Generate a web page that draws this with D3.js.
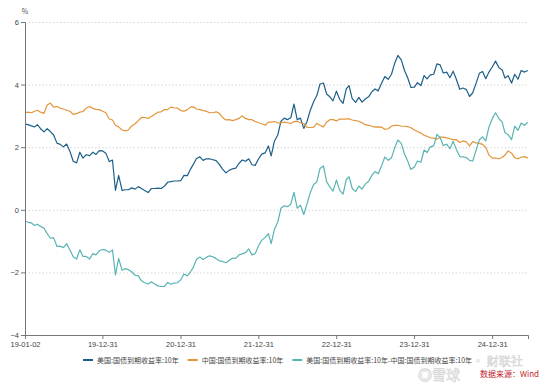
<!DOCTYPE html>
<html>
<head>
<meta charset="utf-8">
<script src="https://cdn.jsdelivr.net/npm/d3@7"></script>
<style>
  body { margin: 0; background: #fff; }
  svg { display: block; font-family: "Noto Sans CJK SC", "Noto Sans", sans-serif; }
  .axis text { fill: #444; font-size: 7.5px; }
  .axis path, .axis line { stroke: #777; }
  .grid line { stroke: #d6d6d6; stroke-dasharray: 1.5 2; }
  .legend text { fill: #444; font-size: 7px; }
</style>
</head>
<body>
<div id="chart"></div>
<script>
// semi-monthly readings (1st / 16th of each month), 2019-01 .. 2025-06
const usYield = [
  2.74, 2.72, 2.68, 2.65, 2.72, 2.59, 2.49, 2.59, 2.50, 2.39, 2.13, 2.09, 2.01, 2.10, 1.86, 1.55, 1.50, 1.84, 1.65, 1.76, 1.73, 1.84, 1.77, 1.89,
  1.88, 1.81, 1.54, 1.59, 0.62, 1.10, 0.62, 0.64, 0.64, 0.70, 0.66, 0.74, 0.68, 0.62, 0.55, 0.68, 0.68, 0.69, 0.68, 0.75, 0.88, 0.90, 0.92, 0.92,
  0.93, 1.10, 1.09, 1.30, 1.45, 1.64, 1.69, 1.58, 1.63, 1.63, 1.60, 1.57, 1.45, 1.30, 1.18, 1.26, 1.31, 1.33, 1.48, 1.59, 1.55, 1.63, 1.44, 1.42,
  1.63, 1.78, 1.82, 2.04, 1.72, 2.19, 2.39, 2.83, 2.93, 2.88, 2.94, 3.38, 2.88, 2.93, 2.60, 2.82, 3.19, 3.45, 3.65, 4.02, 4.05, 3.70, 3.61, 3.48,
  3.79, 3.53, 3.40, 3.86, 3.97, 3.55, 3.43, 3.59, 3.44, 3.54, 3.61, 3.77, 3.86, 3.80, 4.05, 4.26, 4.17, 4.33, 4.68, 4.93, 4.79, 4.45, 4.22, 3.91,
  3.92, 4.06, 3.97, 4.29, 4.18, 4.31, 4.33, 4.66, 4.63, 4.37, 4.40, 4.22, 4.43, 4.17, 3.85, 3.89, 3.84, 3.62, 3.74, 4.03, 4.36, 4.42, 4.19, 4.40,
  4.57, 4.75, 4.54, 4.47, 4.21, 4.28, 4.05, 4.33, 4.17, 4.45, 4.40, 4.45,
];

const cnYield = [
  3.10, 3.12, 3.10, 3.15, 3.18, 3.12, 3.08, 3.35, 3.41, 3.28, 3.30, 3.25, 3.22, 3.18, 3.15, 3.05, 3.07, 3.12, 3.14, 3.25, 3.30, 3.24, 3.21, 3.20,
  3.15, 3.10, 2.90, 2.87, 2.70, 2.65, 2.55, 2.52, 2.55, 2.68, 2.75, 2.85, 2.95, 2.95, 2.92, 2.98, 3.05, 3.12, 3.13, 3.20, 3.20, 3.28, 3.26, 3.25,
  3.17, 3.15, 3.20, 3.28, 3.29, 3.22, 3.20, 3.17, 3.15, 3.10, 3.10, 3.13, 3.08, 2.95, 2.87, 2.88, 2.85, 2.88, 2.92, 3.00, 2.92, 2.88, 2.88, 2.82,
  2.78, 2.75, 2.70, 2.80, 2.80, 2.82, 2.78, 2.78, 2.80, 2.78, 2.76, 2.82, 2.83, 2.78, 2.75, 2.63, 2.63, 2.64, 2.76, 2.70, 2.65, 2.80, 2.88, 2.88,
  2.84, 2.90, 2.90, 2.90, 2.91, 2.87, 2.85, 2.83, 2.78, 2.72, 2.70, 2.67, 2.64, 2.65, 2.64, 2.57, 2.59, 2.67, 2.70, 2.70, 2.67, 2.67, 2.66, 2.62,
  2.55, 2.50, 2.45, 2.38, 2.35, 2.30, 2.29, 2.25, 2.32, 2.32, 2.30, 2.27, 2.24, 2.24, 2.15, 2.20, 2.17, 2.04, 2.18, 2.14, 2.12, 2.09, 1.99, 1.75,
  1.65, 1.65, 1.63, 1.67, 1.75, 1.88, 1.81, 1.66, 1.63, 1.68, 1.70, 1.65,
];

const spreadYield = [
  -0.36, -0.40, -0.42, -0.50, -0.46, -0.53, -0.59, -0.76, -0.91, -0.89, -1.17, -1.16, -1.21, -1.08, -1.29, -1.50, -1.57, -1.28, -1.49, -1.49, -1.57, -1.40, -1.44, -1.31,
  -1.27, -1.29, -1.36, -1.28, -2.08, -1.55, -1.93, -1.88, -1.91, -1.98, -2.09, -2.11, -2.27, -2.33, -2.37, -2.30, -2.37, -2.43, -2.45, -2.45, -2.32, -2.38, -2.34, -2.33,
  -2.24, -2.05, -2.11, -1.98, -1.84, -1.58, -1.51, -1.59, -1.52, -1.47, -1.50, -1.56, -1.63, -1.65, -1.69, -1.62, -1.54, -1.55, -1.44, -1.41, -1.37, -1.25, -1.44, -1.40,
  -1.15, -0.97, -0.88, -0.76, -1.08, -0.63, -0.39, 0.05, 0.13, 0.10, 0.18, 0.56, 0.05, 0.15, -0.15, 0.19, 0.56, 0.81, 0.89, 1.32, 1.40, 0.90, 0.73, 0.60,
  0.95, 0.63, 0.50, 0.96, 1.06, 0.68, 0.58, 0.76, 0.66, 0.82, 0.91, 1.10, 1.22, 1.15, 1.41, 1.69, 1.58, 1.66, 1.98, 2.23, 2.12, 1.78, 1.56, 1.29,
  1.37, 1.56, 1.52, 1.91, 1.83, 2.01, 2.04, 2.41, 2.31, 2.05, 2.10, 1.95, 2.19, 1.93, 1.70, 1.69, 1.67, 1.58, 1.56, 1.89, 2.24, 2.33, 2.20, 2.65,
  2.92, 3.10, 2.91, 2.80, 2.46, 2.40, 2.24, 2.67, 2.54, 2.77, 2.70, 2.80,
];

const seriesNames = [
  '美国:国债到期收益率:10年',
  '中国:国债到期收益率:10年',
  '美国:国债到期收益率:10年-中国:国债到期收益率:10年',
];
const seriesColors = ['#1d5f8a', '#e3953a', '#58b4b2'];
const xTickLabels = ['19-01-02', '19-12-31', '20-12-31', '21-12-31', '22-12-31', '23-12-31', '24-12-31'];
const yTicks = [-4, -2, 0, 2, 4, 6];
const xDomain = ['2019-01-02', '2025-06-17'];

class YieldLineChart {
  constructor(_config, _data) {
    this.config = {
      parentElement: _config.parentElement,
      containerWidth: 554,
      containerHeight: 384,
      margin: {
        top: 22, right: 26, bottom: 49, left: 25,
      },
    };
    this.data = _data;
    this.initVis();
  }

  initVis() {
    const vis = this;

    vis.width = vis.config.containerWidth - vis.config.margin.left - vis.config.margin.right;
    vis.height = vis.config.containerHeight - vis.config.margin.top - vis.config.margin.bottom;

    vis.svg = d3.select(vis.config.parentElement).append('svg')
      .attr('width', vis.config.containerWidth)
      .attr('height', vis.config.containerHeight);

    vis.chart = vis.svg.append('g')
      .attr('transform', `translate(${vis.config.margin.left},${vis.config.margin.top})`);

    const parseDay = d3.timeParse('%Y-%m-%d');
    vis.xScale = d3.scaleTime()
      .domain(xDomain.map(parseDay))
      .range([0, vis.width]);

    vis.yScale = d3.scaleLinear()
      .domain(d3.extent(yTicks))
      .range([vis.height, 0]);

    const parseTick = d3.timeParse('%y-%m-%d');
    vis.xAxis = d3.axisBottom(vis.xScale)
      .tickValues(xTickLabels.map(parseTick))
      .tickFormat(d3.timeFormat('%y-%m-%d'))
      .tickSize(4)
      .tickPadding(3);

    vis.yAxis = d3.axisLeft(vis.yScale)
      .tickValues(yTicks)
      .tickSize(4)
      .tickPadding(2);

    vis.gridAxis = d3.axisLeft(vis.yScale)
      .tickValues(yTicks.filter((d) => d !== yTicks[0]))
      .tickSize(-vis.width)
      .tickFormat('');

    vis.gridG = vis.chart.append('g').attr('class', 'grid');
    vis.linesG = vis.chart.append('g');
    vis.xAxisG = vis.chart.append('g')
      .attr('class', 'axis x-axis')
      .attr('transform', `translate(0,${vis.height})`);
    vis.yAxisG = vis.chart.append('g').attr('class', 'axis y-axis');

    vis.updateVis();
  }

  updateVis() {
    const vis = this;
    // dates: 2019-01-02, then 1st / 16th of every month
    vis.dates = vis.data[0].map((v, i) => new Date(2019, Math.floor(i / 2), i % 2 ? 16 : (i === 0 ? 2 : 1)));
    vis.series = vis.data.map((values, k) => ({
      name: seriesNames[k],
      color: seriesColors[k],
      points: values.map((v, i) => ({ date: vis.dates[i], value: v })),
    }));
    vis.line = d3.line()
      .x((d) => vis.xScale(d.date))
      .y((d) => vis.yScale(d.value));
    vis.renderVis();
  }

  renderVis() {
    const vis = this;

    vis.gridG.call(vis.gridAxis)
      .call((g) => g.select('.domain').remove());

    vis.linesG.selectAll('path')
      .data(vis.series)
      .join('path')
      .attr('fill', 'none')
      .attr('stroke', (d) => d.color)
      .attr('stroke-width', 1.2)
      .attr('stroke-linejoin', 'round')
      .attr('d', (d) => vis.line(d.points));

    vis.xAxisG.call(vis.xAxis);
    vis.yAxisG.call(vis.yAxis);

    vis.svg.append('text')
      .attr('x', vis.config.margin.left)
      .attr('y', 14)
      .attr('text-anchor', 'middle')
      .attr('fill', '#555')
      .attr('font-size', 7)
      .text('%');

    // watermark first, so legend and source sit on top of it
    vis.svg.append('text')
      .attr('x', 418).attr('y', 380)
      .attr('font-size', 14)
      .attr('fill', '#f3f3f3')
      .attr('stroke', '#d2d2d2')
      .attr('stroke-width', 0.5)
      .text('◎雪球');
    vis.svg.append('text')
      .attr('x', 472).attr('y', 366)
      .attr('font-size', 12)
      .attr('fill', '#f3f3f3')
      .attr('stroke', '#d2d2d2')
      .attr('stroke-width', 0.5)
      .text('· 财联社');

    // legend, laid out left to right
    const legend = vis.svg.append('g').attr('class', 'legend');
    let lx = 83;
    const ly = 360;
    vis.series.forEach((s) => {
      legend.append('line')
        .attr('x1', lx).attr('x2', lx + 10)
        .attr('y1', ly).attr('y2', ly)
        .attr('stroke', s.color)
        .attr('stroke-width', 2);
      const t = legend.append('text')
        .attr('x', lx + 14)
        .attr('y', ly + 2.5)
        .text(s.name);
      lx += 14 + t.node().getComputedTextLength() + 9;
    });

    vis.svg.append('text')
      .attr('x', 480).attr('y', 377)
      .attr('font-size', 8)
      .attr('fill', '#c0222b')
      .text('数据来源：Wind');
  }
}

new YieldLineChart({ parentElement: '#chart' }, [usYield, cnYield, spreadYield]);
</script>
</body>
</html>
